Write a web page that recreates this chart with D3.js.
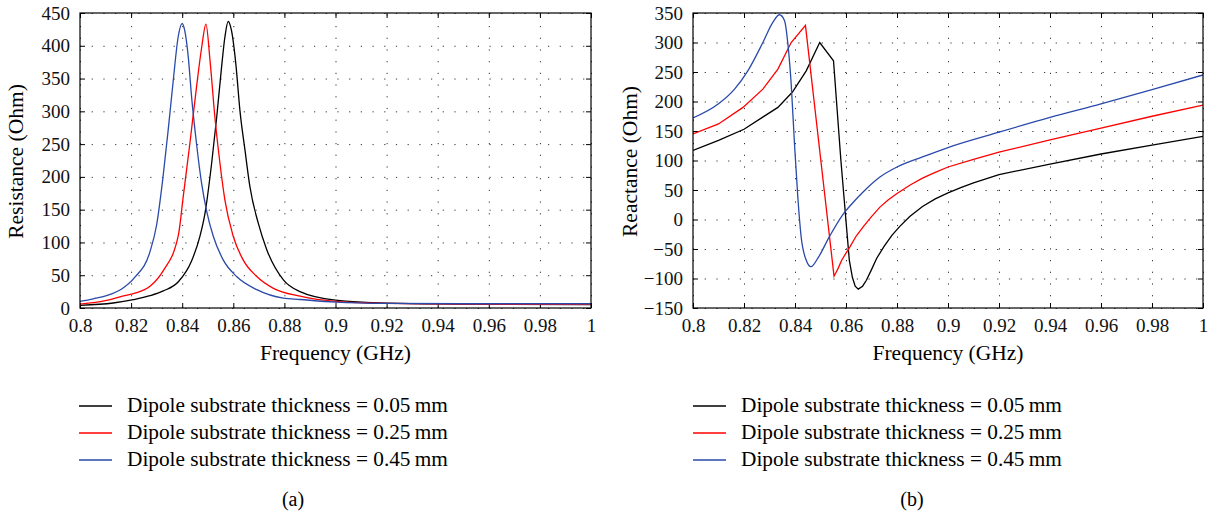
<!DOCTYPE html>
<html lang="en">
<head>
<meta charset="UTF-8" />
<title>Dipole resistance and reactance</title>
<style>
  body { margin: 0; background: #fff; }
  svg { display: block; font-family: "Liberation Serif", "Times New Roman", serif; }
  .grid line { stroke: #333; stroke-dasharray: 1.2, 10.5; stroke-width: 1; }
  .grid path { display: none; }
  .axis path { display: none; }
  .axis line { stroke: #000; }
  .axis text { font-size: 19px; fill: #111; font-family: "Liberation Serif", serif; }
  .data-line { fill: none; stroke-width: 1.3; }
</style>
</head>
<body>
<script src="https://d3js.org/d3.v7.min.js"></script>
<script>

// frequency ticks (GHz)
var freqTicks = [0.8, 0.82, 0.84, 0.86, 0.88, 0.9, 0.92, 0.94, 0.96, 0.98, 1];
var freqTickLabels = ["0.8", "0.82", "0.84", "0.86", "0.88", "0.9", "0.92", "0.94", "0.96", "0.98", "1"];
var resTicks = [0, 50, 100, 150, 200, 250, 300, 350, 400, 450];
var reacTicks = [-150, -100, -50, 0, 50, 100, 150, 200, 250, 300, 350];

var seriesNames = ["Dipole substrate thickness = 0.05\u2009mm",
                   "Dipole substrate thickness = 0.25\u2009mm",
                   "Dipole substrate thickness = 0.45\u2009mm"];
var seriesColors = ["#000000", "#ff0000", "#2a4aaa"];

// resistance (a)
var resFreq05 = [0.8, 0.813, 0.8209, 0.8274, 0.8326, 0.8385, 0.8437, 0.8469, 0.8489, 0.8515, 0.8535, 0.8554, 0.8567, 0.858, 0.8593, 0.861, 0.8626, 0.8646, 0.8665, 0.8698, 0.8731, 0.8796, 0.8861, 0.9, 0.92, 0.95, 1];
var resVal05  = [4, 7.6, 12.7, 18.7, 26, 40, 72, 109, 144, 220, 291, 367, 413, 437, 423, 372, 301, 240, 185, 129, 89, 43, 25, 12, 7.5, 6, 5];

var resFreq25 = [0.8, 0.8104, 0.8163, 0.8209, 0.8274, 0.8326, 0.8385, 0.8404, 0.843, 0.8456, 0.8476, 0.8493, 0.8509, 0.8528, 0.8548, 0.8567, 0.86, 0.8639, 0.8692, 0.8757, 0.8861, 0.9, 0.92, 0.95, 1];
var resVal25  = [6, 11.6, 17.7, 22, 33, 57, 111, 170, 251, 337, 397, 433, 377, 291, 220, 165, 109, 73, 48, 30, 18, 10, 7, 6, 5.5];

var resFreq45 = [0.8, 0.8052, 0.8104, 0.8163, 0.8215, 0.8274, 0.83, 0.8325, 0.8345, 0.8365, 0.8384, 0.84, 0.841, 0.8424, 0.8437, 0.8456, 0.8476, 0.8495, 0.8522, 0.8561, 0.8613, 0.8692, 0.8796, 0.8861, 0.9, 0.92, 0.95, 1];
var resVal45  = [10, 14, 19, 29, 47, 86, 127, 200, 271, 347, 413, 434, 423, 382, 321, 251, 190, 149, 109, 73, 48, 28, 15, 13, 9, 7, 6.5, 6.5];

// reactance (b)
var reacFreq05 = [0.8, 0.81, 0.82, 0.8275, 0.8333, 0.839, 0.8444, 0.8497, 0.8551, 0.858, 0.8613, 0.8625, 0.8636, 0.8648, 0.8665, 0.868, 0.87, 0.872, 0.875, 0.878, 0.881, 0.885, 0.89, 0.895, 0.9, 0.905, 0.91, 0.92, 0.94, 0.96, 0.98, 1];
var reacVal05  = [117, 134, 153, 174, 190, 216, 252, 300, 269, 100, -69, -98, -113, -118, -113, -103, -85, -66, -45, -27, -12, 5, 22, 35, 45, 54, 62, 76, 94, 111, 126, 141];

var reacFreq25 = [0.8, 0.81, 0.8196, 0.8274, 0.8333, 0.8385, 0.8441, 0.8553, 0.8562, 0.857, 0.8583, 0.86, 0.8616, 0.864, 0.8668, 0.87, 0.8733, 0.8765, 0.88, 0.885, 0.89, 0.895, 0.9, 0.91, 0.92, 0.94, 0.96, 0.98, 1];
var reacVal25  = [145, 162, 190, 221, 255, 300, 329, -96, -89, -82, -69, -57, -46, -28, -12, 5, 21, 33, 44, 58, 70, 80, 89, 102, 114, 135, 155, 175, 194];

var reacFreq45 = [0.8, 0.81, 0.8163, 0.8215, 0.8274, 0.8313, 0.8339, 0.8359, 0.8372, 0.8385, 0.8398, 0.8411, 0.8424, 0.8444, 0.8463, 0.8489, 0.8535, 0.8587, 0.8626, 0.8668, 0.8733, 0.88, 0.89, 0.9, 0.92, 0.94, 0.96, 0.98, 1];
var reacVal45  = [172, 196, 221, 252, 300, 334, 347, 337, 298, 230, 128, 38, -29, -69, -80, -66, -29, 8, 28, 47, 72, 89, 106, 122, 148, 173, 196, 220, 245];

var w = 1209, h = 514;

var svg = d3.select("body").append("svg")
  .attr("width", w)
  .attr("height", h);

function zip(xs, ys) {
  return xs.map(function(x, i) { return { f: x, v: ys[i] }; });
}

function drawPanel(cfg) {
  var g = svg.append("g")
    .attr("transform", "translate(" + cfg.left + "," + cfg.top + ")");

  var xScale = d3.scaleLinear().domain([0.8, 1]).range([0, cfg.width]);
  var yScale = d3.scaleLinear().domain(cfg.yDomain).range([cfg.height, 0]);

  // dotted grid
  g.append("g")
    .attr("class", "grid")
    .attr("transform", "translate(0," + cfg.height + ")")
    .call(d3.axisBottom(xScale).tickValues(freqTicks).tickSize(-cfg.height).tickFormat(""));
  g.append("g")
    .attr("class", "grid")
    .call(d3.axisLeft(yScale).tickValues(cfg.yTicks).tickSize(-cfg.width).tickFormat(""));

  // axes with inward ticks
  g.append("g")
    .attr("class", "axis")
    .attr("transform", "translate(0," + cfg.height + ")")
    .call(d3.axisBottom(xScale).tickValues(freqTicks).tickSizeInner(-5).tickSizeOuter(0).tickPadding(11)
      .tickFormat(function(d, i) { return freqTickLabels[i]; }));
  g.append("g")
    .attr("class", "axis")
    .call(d3.axisTop(xScale).tickValues(freqTicks).tickSizeInner(-5).tickSizeOuter(0).tickFormat(""));
  g.append("g")
    .attr("class", "axis")
    .call(d3.axisLeft(yScale).tickValues(cfg.yTicks).tickSizeInner(-5).tickSizeOuter(0).tickPadding(10));
  g.append("g")
    .attr("class", "axis")
    .attr("transform", "translate(" + cfg.width + ",0)")
    .call(d3.axisRight(yScale).tickValues(cfg.yTicks).tickSizeInner(-5).tickSizeOuter(0).tickFormat(""));

  g.append("defs").append("clipPath")
    .attr("id", cfg.id + "-clip")
    .append("rect")
    .attr("width", cfg.width)
    .attr("height", cfg.height);

  g.append("g")
    .attr("clip-path", "url(#" + cfg.id + "-clip)")
    .selectAll("path")
    .data(cfg.series)
    .enter()
    .append("path")
    .attr("class", "data-line")
    .attr("stroke", function(d, i) { return seriesColors[i]; })
    .attr("d", function(d, i) {
      var line = d3.line()
        .curve(cfg.curves[i])
        .x(function(p) { return xScale(p.f); })
        .y(function(p) { return yScale(p.v); });
      return line(d);
    });

  // box
  g.append("rect")
    .attr("width", cfg.width)
    .attr("height", cfg.height)
    .attr("fill", "none")
    .attr("stroke", "#000")
    .attr("stroke-width", 1.2);

  // axis titles
  g.append("text")
    .attr("x", cfg.width / 2)
    .attr("y", cfg.height + 52)
    .attr("text-anchor", "middle")
    .style("font-size", "21.5px")
    .text("Frequency (GHz)");

  g.append("text")
    .attr("transform", "translate(" + cfg.yTitleX + "," + (cfg.height / 2 + 1) + ") rotate(-90)")
    .attr("text-anchor", "middle")
    .style("font-size", "21.5px")
    .text(cfg.yTitle);

  // legend
  var leg = svg.append("g")
    .attr("transform", "translate(" + cfg.legendX + ",406)");
  seriesNames.forEach(function(name, i) {
    leg.append("line")
      .attr("x1", 0).attr("x2", 33)
      .attr("y1", i * 27).attr("y2", i * 27)
      .attr("stroke", seriesColors[i])
      .attr("stroke-width", 1.3);
    leg.append("text")
      .attr("x", 48)
      .attr("y", i * 27 + 6)
      .style("font-size", "21.3px")
      .text(name);
  });

  svg.append("text")
    .attr("x", cfg.labelX)
    .attr("y", 506)
    .attr("text-anchor", "middle")
    .style("font-size", "20px")
    .text(cfg.label);
}

drawPanel({
  id: "res",
  left: 80, top: 13, width: 511, height: 295,
  yDomain: [0, 450], yTicks: resTicks,
  yTitle: "Resistance (Ohm)", yTitleX: -57,
  series: [zip(resFreq05, resVal05), zip(resFreq25, resVal25), zip(resFreq45, resVal45)],
  curves: [d3.curveMonotoneX, d3.curveMonotoneX, d3.curveMonotoneX],
  legendX: 79, labelX: 293, label: "(a)"
});

drawPanel({
  id: "reac",
  left: 693, top: 13, width: 510, height: 295,
  yDomain: [-150, 350], yTicks: reacTicks,
  yTitle: "Reactance (Ohm)", yTitleX: -56,
  series: [zip(reacFreq05, reacVal05), zip(reacFreq25, reacVal25), zip(reacFreq45, reacVal45)],
  curves: [d3.curveLinear, d3.curveLinear, d3.curveMonotoneX],
  legendX: 693, labelX: 912, label: "(b)"
});

</script>
</body>
</html>
